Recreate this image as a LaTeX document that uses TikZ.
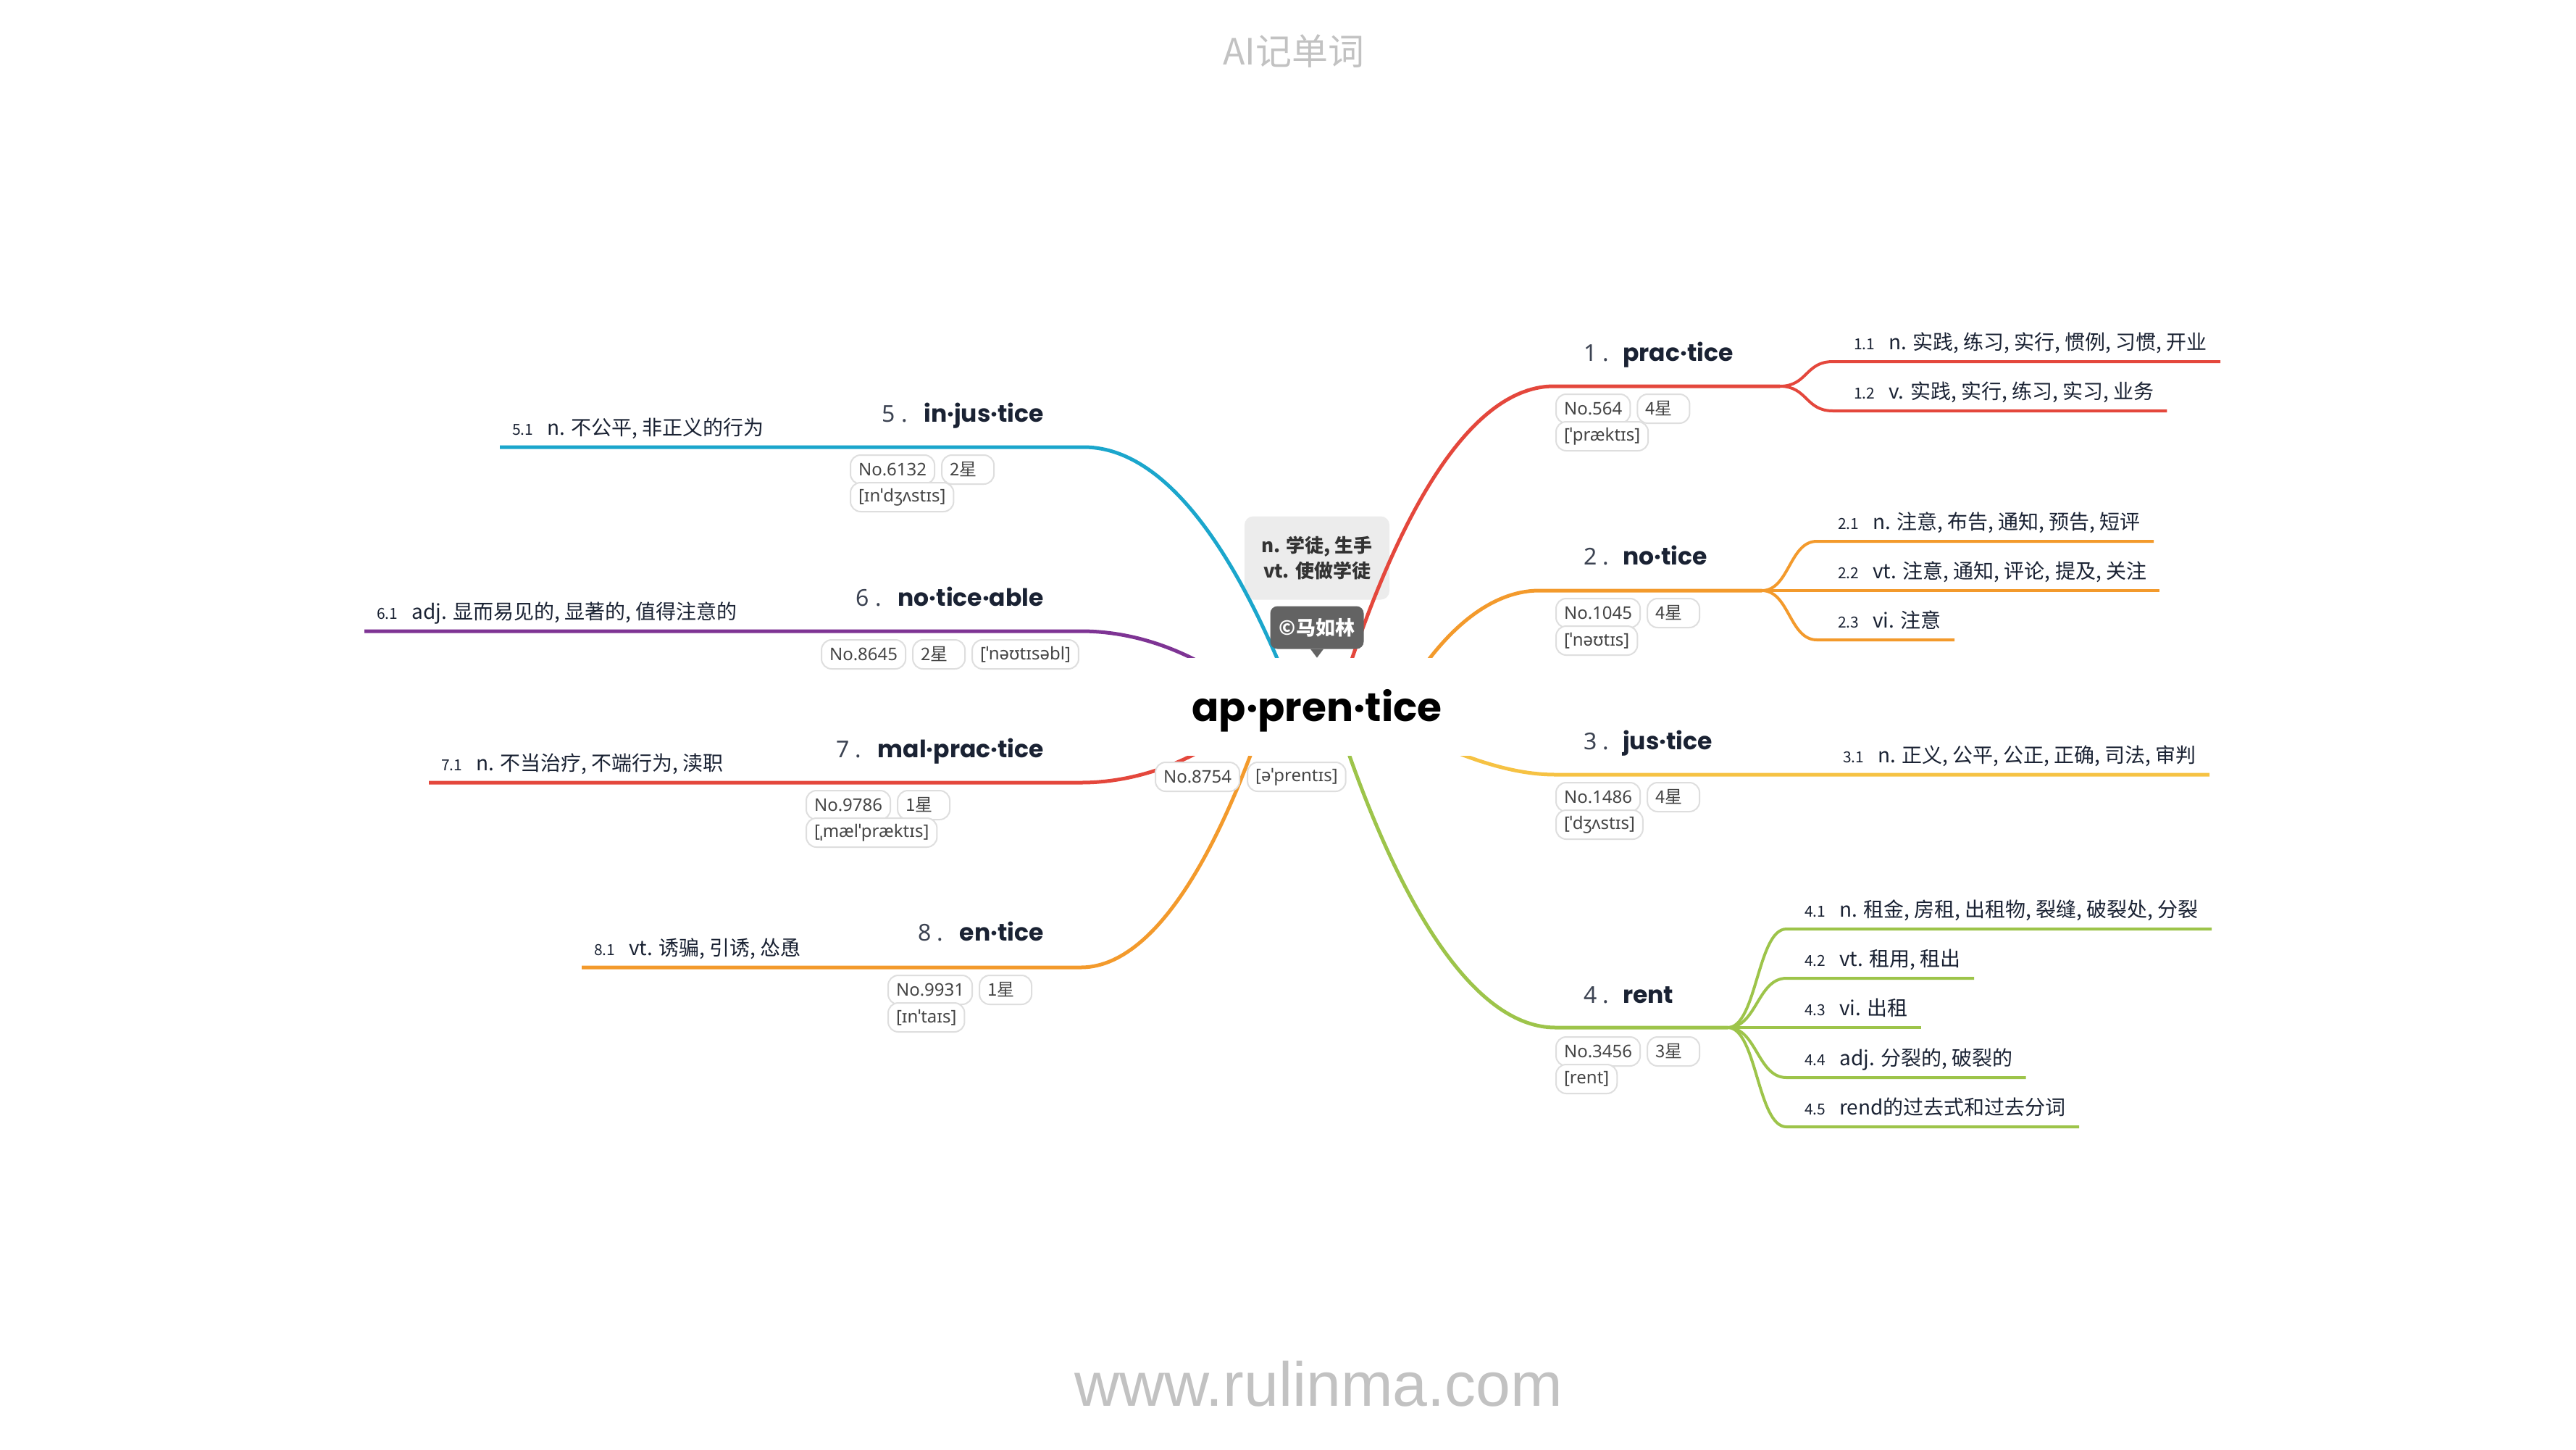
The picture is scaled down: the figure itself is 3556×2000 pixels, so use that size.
\documentclass[tikz,border=0pt]{standalone}
\usepackage{fontspec}
\setmainfont{Noto Sans}
\newfontfamily\cjk{Noto Sans CJK SC}
\newfontfamily\wordfont{Poppins}
\newfontfamily\webfont{Liberation Sans}
\usetikzlibrary{positioning,calc}

\definecolor{cred}{HTML}{E4473C}
\definecolor{corange}{HTML}{F39A2C}
\definecolor{cyellow}{HTML}{F6C243}
\definecolor{cgreen}{HTML}{9DC44A}
\definecolor{cblue}{HTML}{1BA6CC}
\definecolor{cpurple}{HTML}{7E3494}
\definecolor{ink}{HTML}{1A2233}
\definecolor{tagline}{HTML}{DEDEDE}
\definecolor{taggray}{HTML}{454545}
\definecolor{pale}{HTML}{C2C2C2}
\definecolor{notefill}{HTML}{ECECEC}
\definecolor{sigfill}{HTML}{636363}

\newcommand{\fs}[1]{\fontsize{#1}{#1}\selectfont}
\newcommand{\gn}[1]{{\fs{21}#1}\hspace{19pt}}

\tikzset{
  branch/.style={line width=5},
  twig/.style={line width=4},
  word/.style={font=\wordfont\bfseries\fs{33}, text=ink, inner sep=0},
  wnum/.style={font=\fs{32}, text=ink!85, inner sep=0},
  gloss/.style={font=\cjk\fs{28}, text=ink, inner sep=0, anchor=base west},
  tag/.style={draw=tagline, line width=2, rounded corners=14, fill=white,
    font=\fs{24}, text=taggray, minimum height=40, inner xsep=11, inner ysep=0},
  star/.style={tag, font=\cjk\fs{24}, text width=50, align=left},
  hub/.style={fill=white, minimum width=446, minimum height=135, inner sep=0},
  note/.style={fill=notefill, rounded corners=12, minimum width=200, minimum height=115,
    align=center, font=\cjk\bfseries\fontsize{26}{35}\selectfont, text=black!80},
  sig/.style={fill=sigfill, rounded corners=10, minimum width=129, minimum height=59,
    font=\cjk\bfseries\fs{27}, text=white, inner sep=0},
}

\begin{document}
\begin{tikzpicture}[x=1pt,y=-1pt]
\useasboundingbox[fill=white] (0,0) rectangle (3556,2000);

% page title and site
\node[font=\cjk\fs{50}, text=pale] (title) at (1786,71) {AI记单词};
\node[font=\webfont\fs{86}, text=pale, anchor=base] (site) at (1820,1940) {www.rulinma.com};

\node[note] (note) at (1818,770) {n. 学徒, 生手\\vt. 使做学徒};

% right topics
\node[wnum, anchor=base west] (n1) at (2186,498) {1 .};
\node[word, anchor=base west] (w1) at (2240,498) {prac·tice};
\node[tag, anchor=north west] (no1) at (2147,543) {No.564};
\node[star, right=8 of no1] (st1) {4星};
\node[tag, below=4 of no1.south west, anchor=north west] (ph1) {[ˈpræktɪs]};

\node[wnum, anchor=base west] (n2) at (2186,779) {2 .};
\node[word, anchor=base west] (w2) at (2240,779) {no·tice};
\node[tag, anchor=north west] (no2) at (2147,825) {No.1045};
\node[star, right=8 of no2] (st2) {4星};
\node[tag, below=4 of no2.south west, anchor=north west] (ph2) {[ˈnəʊtɪs]};

\node[wnum, anchor=base west] (n3) at (2186,1034) {3 .};
\node[word, anchor=base west] (w3) at (2240,1034) {jus·tice};
\node[tag, anchor=north west] (no3) at (2147,1079) {No.1486};
\node[star, right=8 of no3] (st3) {4星};
\node[tag, below=4 of no3.south west, anchor=north west] (ph3) {[ˈdʒʌstɪs]};

\node[wnum, anchor=base west] (n4) at (2186,1384) {4 .};
\node[word, anchor=base west] (w4) at (2240,1384) {rent};
\node[tag, anchor=north west] (no4) at (2147,1430) {No.3456};
\node[star, right=8 of no4] (st4) {3星};
\node[tag, below=4 of no4.south west, anchor=north west] (ph4) {[rent]};

% left topics
\node[word, anchor=base east] (w5) at (1441,582) {in·jus·tice};
\node[wnum, anchor=base east] (n5) at ([xshift=-22]w5.base west) {5 .};
\node[tag, anchor=north west] (no5) at (1173,627) {No.6132};
\node[star, right=8 of no5] (st5) {2星};
\node[tag, below=4 of no5.south west, anchor=north west] (ph5) {[ɪnˈdʒʌstɪs]};

\node[word, anchor=base east] (w6) at (1441,836) {no·tice·able};
\node[wnum, anchor=base east] (n6) at ([xshift=-22]w6.base west) {6 .};
\node[tag, anchor=north west] (no6) at (1133,882) {No.8645};
\node[star, right=8 of no6] (st6) {2星};
\node[tag, right=8 of st6] (ph6) {[ˈnəʊtɪsəbl]};

\node[word, anchor=base east] (w7) at (1441,1045) {mal·prac·tice};
\node[wnum, anchor=base east] (n7) at ([xshift=-22]w7.base west) {7 .};
\node[tag, anchor=north west] (no7) at (1112,1090) {No.9786};
\node[star, right=8 of no7] (st7) {1星};
\node[tag, below=4 of no7.south west, anchor=north west] (ph7) {[ˌmælˈpræktɪs]};

\node[word, anchor=base east] (w8) at (1441,1298) {en·tice};
\node[wnum, anchor=base east] (n8) at ([xshift=-22]w8.base west) {8 .};
\node[tag, anchor=north west] (no8) at (1225,1345) {No.9931};
\node[star, right=8 of no8] (st8) {1星};
\node[tag, below=4 of no8.south west, anchor=north west] (ph8) {[ɪnˈtaɪs]};

% meanings
\node[gloss] (g11) at (2559,482) {\gn{1.1}n. 实践, 练习, 实行, 惯例, 习惯, 开业};
\node[gloss] (g12) at (2559,550) {\gn{1.2}v. 实践, 实行, 练习, 实习, 业务};
\node[gloss] (g21) at (2537,730) {\gn{2.1}n. 注意, 布告, 通知, 预告, 短评};
\node[gloss] (g22) at (2537,798) {\gn{2.2}vt. 注意, 通知, 评论, 提及, 关注};
\node[gloss] (g23) at (2537,866) {\gn{2.3}vi. 注意};
\node[gloss] (g31) at (2544,1052) {\gn{3.1}n. 正义, 公平, 公正, 正确, 司法, 审判};
\node[gloss] (g41) at (2491,1265) {\gn{4.1}n. 租金, 房租, 出租物, 裂缝, 破裂处, 分裂};
\node[gloss] (g42) at (2491,1333) {\gn{4.2}vt. 租用, 租出};
\node[gloss] (g43) at (2491,1401) {\gn{4.3}vi. 出租};
\node[gloss] (g44) at (2491,1470) {\gn{4.4}adj. 分裂的, 破裂的};
\node[gloss] (g45) at (2491,1538) {\gn{4.5}rend的过去式和过去分词};
\node[gloss] (g51) at (707,600) {\gn{5.1}n. 不公平, 非正义的行为};
\node[gloss] (g61) at (520,854) {\gn{6.1}adj. 显而易见的, 显著的, 值得注意的};
\node[gloss] (g71) at (609,1063) {\gn{7.1}n. 不当治疗, 不端行为, 渎职};
\node[gloss] (g81) at (820,1318) {\gn{8.1}vt. 诱骗, 引诱, 怂恿};

% branch points
\coordinate (s1) at (1845,975); \coordinate (e1) at (2145,533); \coordinate (k1) at (2457,533);
\coordinate (s2) at (1930,975); \coordinate (e2) at (2125,815); \coordinate (k2) at (2432,815);
\coordinate (s3) at (1870,975); \coordinate (e3) at (2147,1069);
\coordinate (s4) at (1840,975); \coordinate (e4) at (2147,1418); \coordinate (k4) at (2385,1418);
\coordinate (s5) at (1790,975); \coordinate (e5) at (1496,617);
\coordinate (s6) at (1760,990); \coordinate (e6) at (1492,871);
\coordinate (s7) at (1760,960); \coordinate (e7) at (1492,1080);
\coordinate (s8) at (1750,975); \coordinate (e8) at (1492,1335);

% main branches
\draw[branch, cred] (s1) .. controls (1933,688) and (2037,533) .. (e1) -- (k1);
\draw[branch, corange] (s2) .. controls (1988,871) and (2057,815) .. (e2) -- (k2);
\draw[branch, cyellow] (s3) .. controls (1950,1010) and (2050,1069) .. (e3) -- ($(g31.east |- e3)+(18,0)$);
\draw[branch, cgreen] (s4) .. controls (1932,1263) and (2040,1418) .. (e4) -- (k4);
\draw[branch, cblue] (s5) .. controls (1700,740) and (1600,617) .. (e5) -- ($(g51.west |- e5)+(-17,0)$);
\draw[branch, cpurple] (s6) .. controls (1680,913) and (1586,871) .. (e6) -- ($(g61.west |- e6)+(-17,0)$);
\draw[branch, cred] (s7) .. controls (1680,1038) and (1586,1080) .. (e7) -- ($(g71.west |- e7)+(-17,0)$);
\draw[branch, corange] (s8) .. controls (1672,1209) and (1582,1335) .. (e8) -- ($(g81.west |- e8)+(-17,0)$);

% sub branches
\draw[twig, cred] (k1) .. controls +(38,0) and +(-38,0) .. (2530,499) -- ($(g11.east |- 0,499)+(18,0)$);
\draw[twig, cred] (k1) .. controls +(38,0) and +(-38,0) .. (2530,567) -- ($(g12.east |- 0,567)+(18,0)$);
\draw[twig, corange] (k2) .. controls +(38,0) and +(-38,0) .. (2508,747) -- ($(g21.east |- 0,747)+(18,0)$);
\draw[twig, corange] (k2) -- ($(g22.east |- k2)+(18,0)$);
\draw[twig, corange] (k2) .. controls +(38,0) and +(-38,0) .. (2508,883) -- ($(g23.east |- 0,883)+(18,0)$);
\foreach \i/\y in {1/1282,2/1350,4/1487,5/1555}
  \draw[twig, cgreen] (k4) .. controls +(40,0) and +(-40,0) .. (2466,\y) -- ($(g4\i.east |- 0,\y)+(18,0)$);
\draw[twig, cgreen] (k4) -- ($(g43.east |- k4)+(18,0)$);

% central word
\node[hub] (hub) at (1818,975.5) {};
\node[font=\wordfont\bfseries\fs{55}, text=black, anchor=base] (head) at (1818,995) {ap·pren·tice};
\node[tag, anchor=north west] (hno) at (1594,1051) {No.8754};
\node[tag, right=9 of hno] (hph) {[əˈprentɪs]};

\node[sig] (sig) at (1818,866) {©马如林};
\fill[sigfill] ([xshift=-9]sig.south) -- ([xshift=9]sig.south) -- ([yshift=-12]sig.south) -- cycle;
\end{tikzpicture}
\end{document}
